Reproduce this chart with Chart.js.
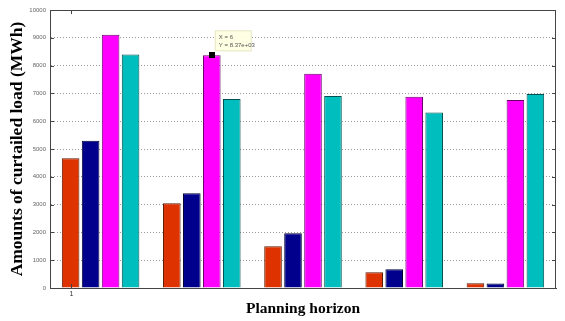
<!DOCTYPE html>
<html>
<head>
<meta charset="utf-8">
<script src="https://cdn.jsdelivr.net/npm/chart.js@4/dist/chart.umd.min.js"></script>
<style>
  html, body { margin: 0; padding: 0; background: #fff; }
  #c { display: block; }
</style>
</head>
<body>
<canvas id="c" width="565" height="321"></canvas>
<script>
// Planning horizons (categories) and curtailed load per scenario, in MWh
const horizons = ['1', '2', '3', '4', '5'];
const seriesRed     = [4670, 3050, 1500, 570, 170];
const seriesBlue    = [5300, 3410, 1970, 670, 160];
const seriesMagenta = [9110, 8370, 7710, 6880, 6760];
const seriesCyan    = [8400, 6800, 6910, 6310, 6980];
const yTickValues   = [0, 1000, 2000, 3000, 4000, 5000, 6000, 7000, 8000, 9000, 10000];
const tipLines      = ['X = 6', 'Y = 8.37e+03'];

const serif = "'Liberation Serif', 'Times New Roman', serif";

// Frame, inner tick marks, the single x tick label and the data tip
const decorations = {
  id: 'decorations',
  afterDraw(chart) {
    const { ctx, chartArea: a, scales: { y } } = chart;
    ctx.save();
    // plot box
    ctx.strokeStyle = '#444';
    ctx.lineWidth = 1;
    ctx.strokeRect(a.left + 0.5, a.top + 0.5, a.right - a.left - 1, a.bottom - a.top);
    // inner ticks on both vertical edges
    ctx.beginPath();
    yTickValues.forEach(v => {
      const py = Math.round(y.getPixelForValue(v)) + 0.5;
      ctx.moveTo(a.left, py); ctx.lineTo(a.left + 4, py);
      ctx.moveTo(a.right - 4, py); ctx.lineTo(a.right, py);
    });
    // x tick at the first bar
    const first = chart.getDatasetMeta(0).data[0];
    const tx = Math.round(first.x) + 0.5;
    ctx.moveTo(tx, a.top); ctx.lineTo(tx, a.top + 4);
    ctx.moveTo(tx, a.bottom); ctx.lineTo(tx, a.bottom - 4);
    ctx.stroke();
    ctx.fillStyle = '#333';
    ctx.font = "7px 'Liberation Sans', sans-serif";
    ctx.textAlign = 'center';
    ctx.textBaseline = 'top';
    ctx.fillText(horizons[0], tx, a.bottom + 3);

    // data tip on the magenta bar of the second horizon
    const el = chart.getDatasetMeta(2).data[1];
    const bx = el.x + 3, by = el.y - 25;
    ctx.fillStyle = 'rgba(255,255,225,0.95)';
    ctx.strokeStyle = '#e6e6c8';
    ctx.fillRect(bx, by, 37, 21);
    ctx.strokeRect(bx + 0.5, by + 0.5, 36, 20);
    ctx.fillStyle = '#555';
    ctx.font = "6px 'Liberation Sans', sans-serif";
    ctx.textAlign = 'left';
    ctx.textBaseline = 'middle';
    ctx.fillText(tipLines[0], bx + 4, by + 7);
    ctx.fillText(tipLines[1], bx + 4, by + 15);
    ctx.fillStyle = '#000';
    ctx.fillRect(Math.round(el.x) - 3, Math.round(el.y) - 3, 6, 6);
    ctx.restore();
  }
};

const barStyle = (fill, edge, data) => ({
  data, backgroundColor: fill, borderColor: edge, borderWidth: 1,
  barPercentage: 0.88, categoryPercentage: 0.79
});

new Chart(document.getElementById('c'), {
  type: 'bar',
  data: {
    labels: horizons,
    datasets: [
      barStyle('rgb(222,50,0)', '#5a1a00', seriesRed),
      barStyle('rgb(0,0,140)', '#000030', seriesBlue),
      barStyle('rgb(255,0,255)', '#6a006a', seriesMagenta),
      barStyle('rgb(0,190,190)', '#005050', seriesCyan)
    ]
  },
  options: {
    responsive: false,
    animation: false,
    devicePixelRatio: 1,
    layout: { padding: { top: 10, right: 9, left: 0, bottom: 0 } },
    plugins: { legend: { display: false }, tooltip: { enabled: false } },
    scales: {
      x: {
        offset: true,
        grid: { display: false, drawTicks: false },
        border: { display: true, color: '#444' },
        ticks: { display: false },
        title: {
          display: true, text: 'Planning horizon', color: '#000',
          font: { family: serif, size: 15.5, weight: 'bold' },
          padding: { top: 0, bottom: 3 }
        },
        afterFit(s) { s.height = 33; }
      },
      y: {
        min: 0, max: 10000,
        afterBuildTicks(s) { s.ticks = yTickValues.map(v => ({ value: v })); },
        ticks: {
          color: '#666', padding: 4,
          font: { family: "'Liberation Sans', sans-serif", size: 6 },
          callback: v => String(v)
        },
        grid: { color: '#999', drawTicks: false },
        border: { display: true, color: '#444', dash: [1, 2] },
        title: {
          display: true, text: 'Amounts of curtailed load (MWh)', color: '#000',
          font: { family: serif, size: 17.5, weight: 'bold' },
          padding: { top: 6.5, bottom: 0 }
        },
        afterFit(s) { s.width = 50; }
      }
    }
  },
  plugins: [decorations]
});
</script>
</body>
</html>
